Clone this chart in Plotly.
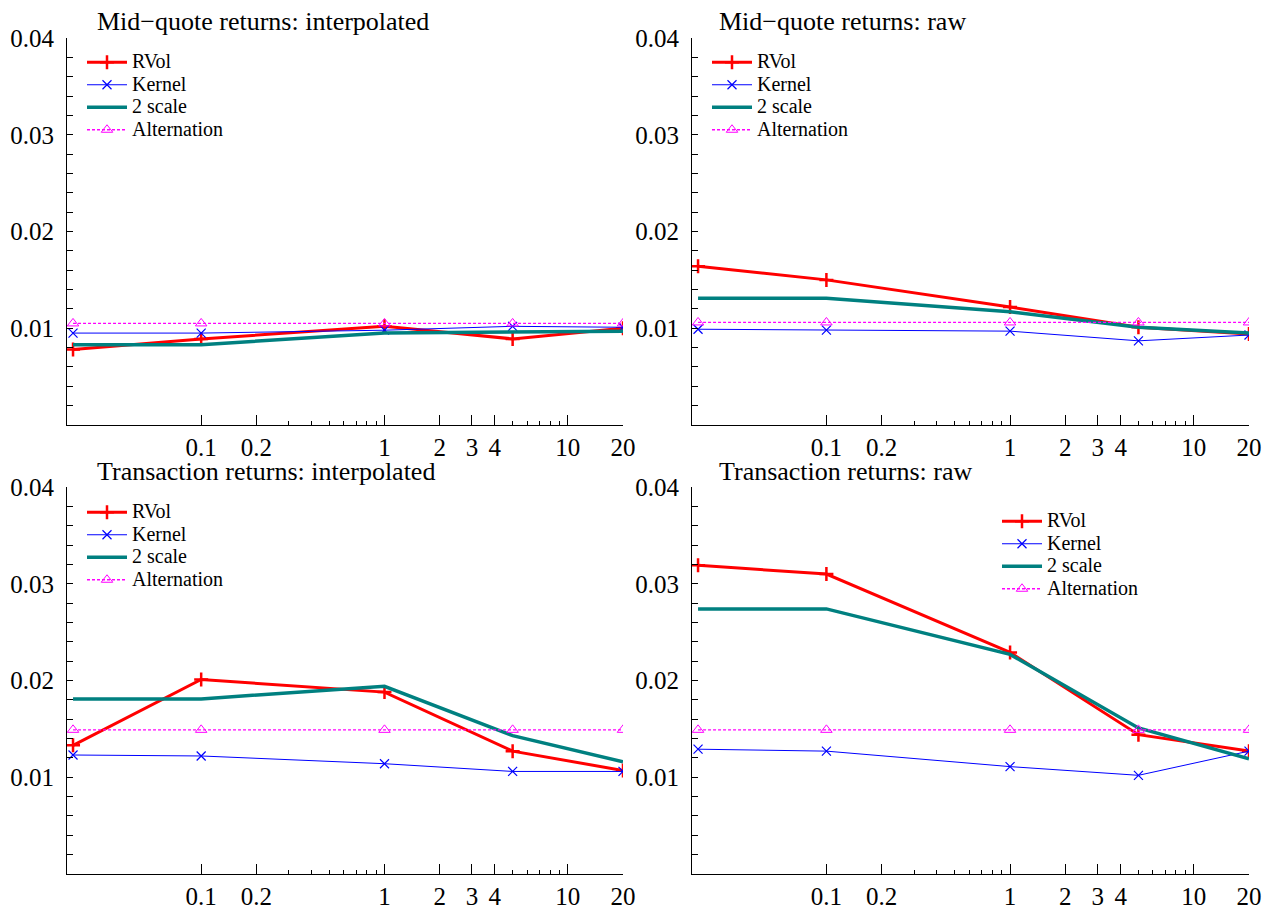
import math
import plotly.graph_objects as go

# ---------------- data ----------------
sampling = [0.02, 0.1, 1, 5, 20]

panel_titles = [
    "Mid\u2212quote returns: interpolated",
    "Mid\u2212quote returns: raw",
    "Transaction returns: interpolated",
    "Transaction returns: raw",
]

rvol_mq_interp = [0.0078, 0.0089, 0.0102, 0.0089, 0.0100]
kernel_mq_interp = [0.0095, 0.0095, 0.0098, 0.0102, 0.0101]
twoscale_mq_interp = [0.0083, 0.0083, 0.0095, 0.0096, 0.0097]
alt_mq_interp = [0.0105, 0.0105, 0.0105, 0.0105, 0.0105]

rvol_mq_raw = [0.0164, 0.0150, 0.0122, 0.0101, 0.0094]
kernel_mq_raw = [0.0099, 0.0098, 0.0097, 0.0087, 0.0093]
twoscale_mq_raw = [0.0131, 0.0131, 0.0117, 0.0101, 0.0095]
alt_mq_raw = [0.0106, 0.0106, 0.0106, 0.0106, 0.0106]

rvol_tr_interp = [0.0133, 0.0201, 0.0188, 0.0127, 0.0107]
kernel_tr_interp = [0.0123, 0.0122, 0.0114, 0.0106, 0.0106]
twoscale_tr_interp = [0.0181, 0.0181, 0.0194, 0.0143, 0.0116]
alt_tr_interp = [0.0149, 0.0149, 0.0149, 0.0149, 0.0149]

rvol_tr_raw = [0.0319, 0.0310, 0.0229, 0.0144, 0.0127]
kernel_tr_raw = [0.0129, 0.0127, 0.0111, 0.0102, 0.0127]
twoscale_tr_raw = [0.0274, 0.0274, 0.0227, 0.0151, 0.0119]
alt_tr_raw = [0.0149, 0.0149, 0.0149, 0.0149, 0.0149]

series_names = ["RVol", "Kernel", "2 scale", "Alternation"]

x_tickvals = [0.1, 0.2, 1, 2, 3, 4, 10, 20]
x_ticktext = ["0.1", "0.2", "1", "2", "3", "4", "10", "20"]
x_minorvals = [0.3, 0.4, 0.5, 0.6, 0.7, 0.8, 0.9, 5, 6, 7, 8, 9]
y_tickvals = [0.01, 0.02, 0.03, 0.04]
y_ticktext = ["0.01", "0.02", "0.03", "0.04"]

panels = [
    (rvol_mq_interp, kernel_mq_interp, twoscale_mq_interp, alt_mq_interp),
    (rvol_mq_raw, kernel_mq_raw, twoscale_mq_raw, alt_mq_raw),
    (rvol_tr_interp, kernel_tr_interp, twoscale_tr_interp, alt_tr_interp),
    (rvol_tr_raw, kernel_tr_raw, twoscale_tr_raw, alt_tr_raw),
]

# ---------------- layout geometry ----------------
W, H = 1263, 908
FONT = "Liberation Serif"
x_doms = [(67 / W, 623 / W), (692 / W, 1249 / W)]
y_doms = [(1 - 425 / H, 1 - 38 / H), (1 - 874 / H, 1 - 487 / H)]
xrange_log = [math.log10(0.01854), math.log10(20)]


def legend_label(s):
    return '<span style="font-size:20px">' + s + "</span>"


fig = go.Figure()

legend_names = ["legend", "legend2", "legend3", "legend4"]
legend_pos = [(82, 46), (707, 46), (82, 496), (997, 505)]

for i, (rv, ke, ts, al) in enumerate(panels):
    row, col = divmod(i, 2)
    ax = "" if i == 0 else str(i + 1)
    xref, yref = "x" + ax, "y" + ax
    lg = legend_names[i]
    fig.add_trace(go.Scatter(
        x=sampling, y=rv, name=legend_label(series_names[0]), xaxis=xref, yaxis=yref, legend=lg,
        mode="lines+markers", line=dict(color="#ff0000", width=3),
        marker=dict(symbol="cross-thin", size=10, line=dict(color="#ff0000", width=2.5)),
    ))
    fig.add_trace(go.Scatter(
        x=sampling, y=ke, name=legend_label(series_names[1]), xaxis=xref, yaxis=yref, legend=lg,
        mode="lines+markers", line=dict(color="#0000ff", width=1),
        marker=dict(symbol="x-thin", size=9, line=dict(color="#0000ff", width=1.2)),
    ))
    fig.add_trace(go.Scatter(
        x=sampling, y=ts, name=legend_label(series_names[2]), xaxis=xref, yaxis=yref, legend=lg,
        mode="lines", line=dict(color="#008080", width=3.5),
    ))
    fig.add_trace(go.Scatter(
        x=sampling, y=al, name=legend_label(series_names[3]), xaxis=xref, yaxis=yref, legend=lg,
        mode="lines+markers", line=dict(color="#ff00ff", width=1.3, dash="3px,2px"),
        marker=dict(symbol="triangle-up-open", size=10, color="#ff00ff", line=dict(width=1)),
    ))

    xa = dict(
        domain=list(x_doms[col]), type="log", range=xrange_log,
        tickmode="array", tickvals=x_tickvals, ticktext=x_ticktext,
        ticks="inside", ticklen=10, tickwidth=1, tickcolor="black",
        showline=True, linecolor="black", linewidth=1, mirror=False,
        showgrid=False, zeroline=False, anchor=yref,
        tickfont=dict(family=FONT, size=25, color="black"),
        ticklabelstandoff=0,
        minor=dict(tickmode="array", tickvals=x_minorvals, ticks="inside",
                   ticklen=4, tickwidth=1, tickcolor="black", showgrid=False),
    )
    ya = dict(
        domain=list(y_doms[row]), range=[0, 0.04],
        tickmode="array", tickvals=y_tickvals, ticktext=y_ticktext,
        ticks="inside", ticklen=6, tickwidth=1, tickcolor="black",
        showline=True, linecolor="black", linewidth=1, mirror=False,
        showgrid=False, zeroline=False, anchor=xref,
        tickfont=dict(family=FONT, size=25, color="black"),
        ticklabelstandoff=7,
        minor=dict(dtick=0.002, tick0=0, ticks="inside", ticklen=6,
                   tickwidth=1, tickcolor="black", showgrid=False),
    )
    fig.layout["xaxis" + ax] = xa
    fig.layout["yaxis" + ax] = ya

    lx, ly = legend_pos[i]
    fig.layout[lg] = dict(
        x=lx / W, y=1 - ly / H, xref="paper", yref="paper",
        xanchor="left", yanchor="top", bgcolor="rgba(0,0,0,0)",
        borderwidth=0, font=dict(family=FONT, size=15, color="black"),
        itemwidth=40, tracegroupgap=0,
    )

title_pos = [(95, 21), (717, 21), (95, 471), (717, 471)]
for t, (tx, ty) in zip(panel_titles, title_pos):
    fig.add_annotation(
        text=t, x=tx / W, y=1 - ty / H, xref="paper", yref="paper",
        xanchor="left", yanchor="middle", showarrow=False,
        font=dict(family=FONT, size=26, color="black"),
    )

fig.update_layout(
    width=W, height=H,
    margin=dict(l=0, r=0, t=0, b=0, autoexpand=False),
    paper_bgcolor="white", plot_bgcolor="white",
    font=dict(family=FONT, color="black"),
)

fig.write_html(
    "out.html",
    config={"displayModeBar": False},
    post_script="document.body.style.margin='0';document.body.style.padding='0';",
)
